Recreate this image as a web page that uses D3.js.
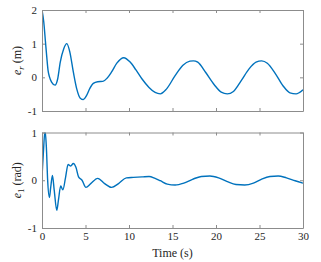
<!DOCTYPE html>
<html>
<head>
<meta charset="utf-8">
<script src="https://cdn.jsdelivr.net/npm/d3@7"></script>
<style>
  body { margin: 0; background: #fff; }
  text { font-family: "Liberation Serif", "DejaVu Serif", serif; fill: #262626; }
</style>
</head>
<body>
<script>
const w = 321;
const h = 262;

// time samples (s)
const timeR = [0, 0.2, 0.4, 0.55, 0.7, 0.85, 1.1, 1.5, 1.8, 2.1, 2.5, 2.85, 3.2, 3.6, 4.0, 4.4, 4.75, 5.1, 5.5, 5.9, 6.4, 7.0, 7.5, 8.0, 8.6, 9.4, 10.1, 10.8, 11.5, 12.3, 13.0, 13.6, 14.3, 15.3, 16.2, 17.0, 17.4, 17.9, 18.8, 19.8, 20.6, 21.3, 22.0, 22.9, 23.8, 24.6, 25.25, 25.9, 26.8, 27.7, 28.5, 29.2, 30];
const errR = [2.0, 1.65, 1.05, 0.6, 0.2, 0.02, -0.14, -0.23, -0.05, 0.45, 0.85, 1.0, 0.75, 0.16, -0.35, -0.62, -0.66, -0.55, -0.33, -0.18, -0.13, -0.12, -0.02, 0.16, 0.42, 0.58, 0.46, 0.22, -0.05, -0.3, -0.45, -0.49, -0.35, 0.05, 0.36, 0.48, 0.49, 0.45, 0.15, -0.22, -0.44, -0.49, -0.42, -0.1, 0.25, 0.45, 0.49, 0.42, 0.12, -0.25, -0.46, -0.49, -0.37];

const time1 = [0, 0.15, 0.35, 0.5, 0.65, 0.85, 1.0, 1.2, 1.4, 1.7, 1.9, 2.15, 2.4, 2.7, 3.0, 3.3, 3.6, 3.9, 4.2, 4.6, 5.05, 5.6, 6.4, 7.2, 8.0, 8.8, 9.7, 10.5, 11.5, 12.3, 13.0, 13.6, 14.4, 15.3, 16.3, 17.3, 18.3, 19.3, 20.3, 21.3, 22.3, 23.3, 24.3, 25.2, 26.2, 27.15, 28.1, 29.1, 30];
const err1 = [0.07, 0.55, 1.05, 0.7, 0.0, -0.36, -0.15, 0.1, -0.2, -0.63, -0.4, -0.12, -0.2, 0.05, 0.33, 0.3, 0.35, 0.27, 0.07, 0.0, -0.15, -0.07, 0.04, -0.07, -0.15, -0.07, 0.05, 0.06, 0.07, 0.08, 0.04, -0.01, -0.08, -0.1, -0.06, 0.02, 0.08, 0.09, 0.05, -0.03, -0.09, -0.1, -0.06, 0.02, 0.08, 0.09, 0.05, -0.01, -0.06];

const xTicks = [0, 5, 10, 15, 20, 25, 30];
const yTicksR = [-1, 0, 1, 2];
const yTicks1 = [-1, 0, 1];

const left = 42;
const right = 303;
const lineColor = "#0072bd";
const axisColor = "#8c8c8c";

const svg = d3.select("body").append("svg").attr("width", w).attr("height", h);

const xScale = d3.scaleLinear().domain([0, 30]).range([left, right]);

function drawPanel(id, times, values, yDomain, yTicks, top, bottom, sub, unit, showX) {
  const yScale = d3.scaleLinear().domain(yDomain).range([bottom, top]);
  const g = svg.append("g").attr("id", id);

  g.append("clipPath").attr("id", id + "-clip")
    .append("rect")
    .attr("x", left).attr("y", top)
    .attr("width", right - left).attr("height", bottom - top);

  const line = d3.line()
    .x((d, i) => xScale(times[i]))
    .y(d => yScale(d))
    .curve(d3.curveMonotoneX);

  g.append("path")
    .datum(values)
    .attr("clip-path", "url(#" + id + "-clip)")
    .attr("fill", "none")
    .attr("stroke", lineColor)
    .attr("stroke-width", 1.4)
    .attr("d", line);

  // axes with inward ticks on all four sides
  const tl = 3;
  const xb = g.append("g").attr("transform", "translate(0," + bottom + ")")
    .call(d3.axisBottom(xScale).tickValues(xTicks).tickSizeInner(-tl).tickSizeOuter(0)
      .tickFormat(showX ? d3.format("d") : ""));
  const xt = g.append("g").attr("transform", "translate(0," + top + ")")
    .call(d3.axisTop(xScale).tickValues(xTicks).tickSizeInner(-tl).tickSizeOuter(0).tickFormat(""));
  const yl = g.append("g").attr("transform", "translate(" + left + ",0)")
    .call(d3.axisLeft(yScale).tickValues(yTicks).tickSizeInner(-tl).tickSizeOuter(0)
      .tickFormat(d => d < 0 ? "-" + Math.abs(d) : d));
  const yr = g.append("g").attr("transform", "translate(" + right + ",0)")
    .call(d3.axisRight(yScale).tickValues(yTicks).tickSizeInner(-tl).tickSizeOuter(0).tickFormat(""));

  [xb, xt, yl, yr].forEach(a => {
    a.selectAll("path, line").attr("stroke", axisColor).attr("stroke-width", 1);
    a.selectAll("text")
      .style("font-family", "'Liberation Serif', 'DejaVu Serif', serif")
      .style("font-size", "11px")
      .attr("fill", "#262626");
  });
  yl.selectAll("text").attr("x", -5);
  xb.selectAll("text").attr("y", 4);

  const cy = (top + bottom) / 2;
  const t = g.append("text")
    .attr("transform", "translate(21," + cy + ") rotate(-90)")
    .attr("text-anchor", "middle")
    .style("font-size", "12px");
  t.append("tspan").style("font-style", "italic").text("e");
  t.append("tspan").attr("dy", 3).style("font-size", "9px")
    .style("font-style", sub === "r" ? "italic" : "normal").text(sub);
  t.append("tspan").attr("dy", -3).text(" (" + unit + ")");
}

drawPanel("top", timeR, errR, [-1, 2], yTicksR, 10, 111, "r", "m", false);
drawPanel("bottom", time1, err1, [-1, 1], yTicks1, 132.5, 228, "1", "rad", true);

svg.append("text")
  .attr("x", (left + right) / 2)
  .attr("y", 257)
  .attr("text-anchor", "middle")
  .style("font-size", "12px")
  .text("Time (s)");
</script>
</body>
</html>
